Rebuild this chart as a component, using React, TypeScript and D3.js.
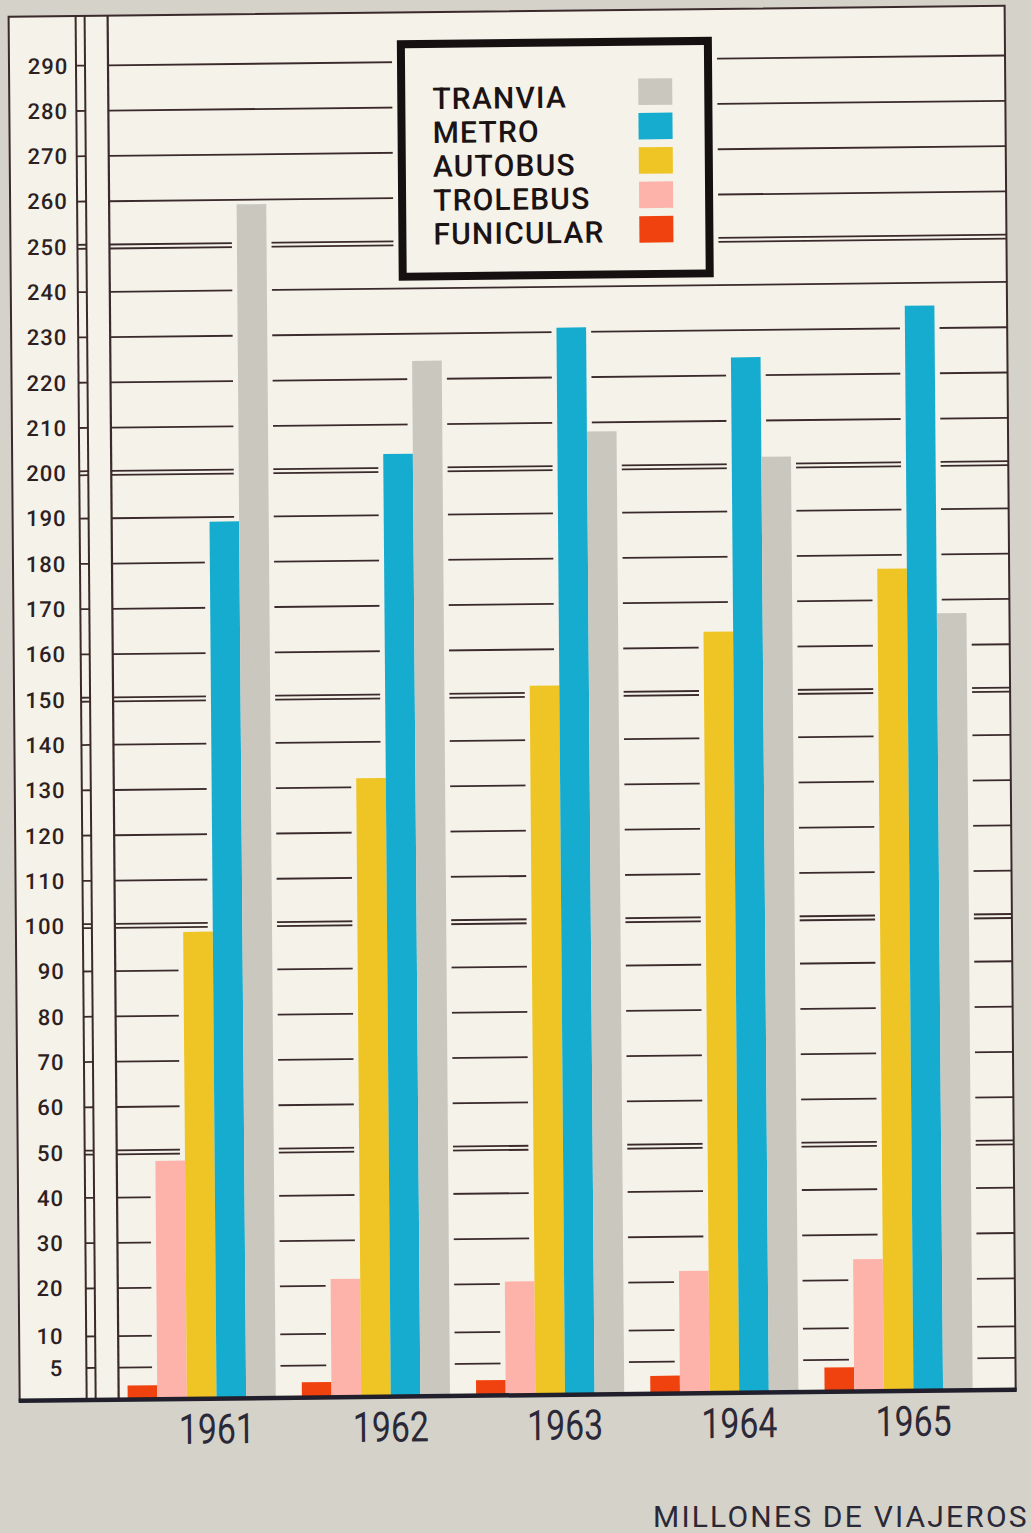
import React from 'react';
import * as d3 from 'd3';

const years = ['1961', '1962', '1963', '1964', '1965'];
const groupOrder = ['FUNICULAR', 'TROLEBUS', 'AUTOBUS', 'METRO', 'TRANVIA'];
const legendOrder = ['TRANVIA', 'METRO', 'AUTOBUS', 'TROLEBUS', 'FUNICULAR'];

const tranvia = [259, 224, 208, 202, 167];
const metro = [189, 203.5, 231, 224, 235];
const autobus = [98.5, 132, 152, 163.5, 177];
const trolebus = [48, 21.5, 20.5, 22.4, 24.6];
const funicular = [2.2, 2.4, 2.4, 2.8, 3.8];

const tickValues = [5, 10, 20, 30, 40, 50, 60, 70, 80, 90, 100, 110, 120, 130, 140, 150, 160, 170, 180, 190, 200, 210, 220, 230, 240, 250, 260, 270, 280, 290];
const doubleTicks = [50, 100, 150, 200, 250];

const seriesValues: Record<string, number[]> = {
  TRANVIA: tranvia,
  METRO: metro,
  AUTOBUS: autobus,
  TROLEBUS: trolebus,
  FUNICULAR: funicular,
};

const colors: Record<string, string> = {
  TRANVIA: '#cac7bf',
  METRO: '#16acd0',
  AUTOBUS: '#eec524',
  TROLEBUS: '#fdb2aa',
  FUNICULAR: '#f0420f',
};

const PAPER = '#f5f2e9';
const OUTER = '#d5d2c9';
const INK = '#3a2a2b';

export default function App() {
  const W = 1031;
  const H = 1533;
  const panel = { left: 9, top: 16, right: 1005, bottom: 1400 };
  const axisX = 108;
  const rulerA = 76;
  const rulerB = 85;

  const y = d3.scaleLinear().domain([0, 5, 10, 20, 290]).range([1400, 1368, 1336.5, 1288.5, 65.7]);
  const x = d3.scaleBand<string>().domain(years).range([117, 962]).paddingInner(0.15).paddingOuter(0);
  const xi = d3.scaleBand<string>().domain(groupOrder).range([0, x.bandwidth()]);

  const shear = 'matrix(1,-0.011,0.008,1,-0.52,0.847)';
  const labelShear = 'matrix(1,0,-0.0038,1,0.247,0)';

  const gridYs: { key: string; yy: number }[] = [];
  tickValues.forEach((t) => {
    if (doubleTicks.includes(t)) {
      gridYs.push({ key: t + 'a', yy: y(t) - 2 });
      gridYs.push({ key: t + 'b', yy: y(t) + 2 });
    } else {
      gridYs.push({ key: String(t), yy: y(t) });
    }
  });

  const bars: { key: string; x: number; w: number; y: number; h: number; color: string }[] = [];
  years.forEach((yr, i) => {
    groupOrder.forEach((s) => {
      const v = seriesValues[s][i];
      const bx = (x(yr) as number) + (xi(s) as number);
      bars.push({ key: yr + s, x: bx, w: xi.bandwidth(), y: y(v), h: y(0) - y(v), color: colors[s] });
    });
  });

  const legend = { x: 401, y: 47.8, w: 307, h: 232.5 };

  return (
    <div style={{ position: 'absolute', left: 0, top: 0 }}>
      <svg width={W} height={H} style={{ display: 'block' }} fontFamily="Roboto, 'DejaVu Sans', sans-serif">
        <rect x={0} y={0} width={W} height={H} fill={OUTER} />
        <g transform={shear}>
          <rect x={panel.left} y={panel.top} width={panel.right - panel.left} height={panel.bottom - panel.top} fill={PAPER} stroke={INK} strokeWidth={2} />
          {gridYs.map((g) => (
            <line key={g.key} x1={axisX} x2={panel.right} y1={g.yy} y2={g.yy} stroke={INK} strokeWidth={1.8} />
          ))}
          <rect x={392} y={36} width={325} height={254} fill={PAPER} />
          {bars.map((b) => (
            <rect key={'c' + b.key} x={b.x - 5} y={b.y} width={b.w + 10} height={b.h} fill={PAPER} />
          ))}
          {bars.map((b) => (
            <rect key={b.key} x={b.x} y={b.y} width={b.w} height={b.h} fill={b.color} />
          ))}
          <line x1={rulerA} x2={rulerA} y1={panel.top} y2={panel.bottom} stroke={INK} strokeWidth={2} />
          <line x1={rulerB} x2={rulerB} y1={panel.top} y2={panel.bottom} stroke={INK} strokeWidth={2} />
          <line x1={axisX} x2={axisX} y1={panel.top} y2={panel.bottom} stroke={INK} strokeWidth={2.2} />
          {gridYs.map((g) => (
            <line key={'t' + g.key} x1={rulerA} x2={rulerB} y1={g.yy} y2={g.yy} stroke={INK} strokeWidth={1.8} />
          ))}
          <rect x={legend.x} y={legend.y} width={legend.w} height={legend.h} fill={PAPER} stroke="#161011" strokeWidth={8} />
          {legendOrder.map((s, i) => (
            <g key={s}>
              <text x={432} y={113 + i * 33.85} fontSize={30} fontWeight={500} letterSpacing={1.2} fill="#1b1314">
                {s}
              </text>
              <rect x={638} y={84.7 + i * 34.4} width={34} height={26.5} fill={colors[s]} />
            </g>
          ))}
          <line x1={panel.left - 1} x2={panel.right + 1} y1={y(0)} y2={y(0)} stroke="#211f2b" strokeWidth={4.5} />
          {years.map((yr) => (
            <text
              key={yr}
              x={(x(yr) as number) + x.bandwidth() * 0.6}
              y={1445}
              fontSize={42}
              textAnchor="middle"
              textLength={76}
              lengthAdjust="spacingAndGlyphs"
              fill="#2b2937"
            >
              {yr}
            </text>
          ))}
        </g>
        <g transform={labelShear}>
          {tickValues.map((t) => (
            <text key={t} x={68.3} y={y(t)} dy="0.36em" fontSize={22} fontWeight={500} letterSpacing={1} textAnchor="end" fill="#2d1f22">
              {t}
            </text>
          ))}
        </g>
        <text x={653} y={1527} fontSize={30} letterSpacing={2.2} fill="#2b2937">
          MILLONES DE VIAJEROS
        </text>
      </svg>
    </div>
  );
}
